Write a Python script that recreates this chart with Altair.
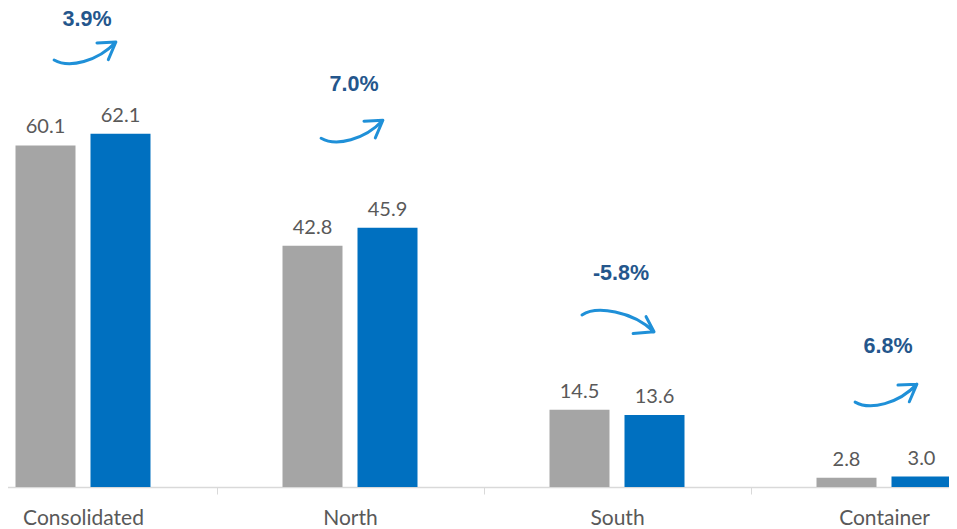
import altair as alt
import pandas as pd

# ---- data ----
categories = ["Consolidated", "North", "South", "Container"]
series_names = ["Previous", "Current"]
previous_values = [60.1, 42.8, 14.5, 2.8]
current_values = [62.1, 45.9, 13.6, 3.0]
growth_values = [3.9, 7.0, -5.8, 6.8]
growth_labels = ["3.9%", "7.0%", "-5.8%", "6.8%"]
arrow_levels = [76.2, 62.7, 29.7, 17.2]   # value-axis level of each growth arrow
label_levels = [80.7, 69.5, 36.9, 24.3]   # value-axis level of each growth label
series_colors = ["#a5a5a5", "#0070c0"]

bars_df = pd.DataFrame({
    "category": categories * 2,
    "series": [series_names[0]] * len(categories) + [series_names[1]] * len(categories),
    "value": previous_values + current_values,
})
ann_df = pd.DataFrame({
    "category": categories,
    "growth": growth_values,
    "label": growth_labels,
    "arrow_level": arrow_levels,
    "label_level": label_levels,
})

FONT = "Lato, sans-serif"
TEXT_GREY = "#595959"
ARROW_COLOR = "#1f90d8"
PCT_COLOR = "#24568c"

UP_ARROW = "M -0.98 0.25 C -0.5 0.52 0.4 0.3 0.98 -0.32 M 0.38 -0.29 L 0.98 -0.32 L 0.74 0.24"
DOWN_ARROW = "M -1 -0.19 C -0.6 -0.45 0.4 -0.3 1 0.28 M 0.78 -0.14 L 1 0.28 L 0.42 0.33"

yscale = alt.Scale(domain=[1.2, 83.8], nice=False, zero=False)
xscale = alt.Scale(range=[-58.5, 1009.5], paddingInner=0, paddingOuter=0)

x_enc = alt.X("category:N", sort=categories, scale=xscale,
              axis=alt.Axis(title=None, labelAngle=0, tickBand="extent"))
xoff_enc = alt.XOffset("series:N", sort=series_names,
                       scale=alt.Scale(paddingInner=0.2, paddingOuter=0.88))

base = alt.Chart(bars_df)

bars = base.mark_bar(clip=True).encode(
    x=x_enc,
    xOffset=xoff_enc,
    y=alt.Y("value:Q", scale=yscale, axis=None),
    color=alt.Color("series:N", scale=alt.Scale(domain=series_names, range=series_colors), legend=None),
)

values = base.mark_text(dy=-12, baseline="alphabetic", font=FONT, fontSize=20, color=TEXT_GREY).encode(
    x=x_enc,
    xOffset=xoff_enc,
    y=alt.Y("value:Q", scale=yscale, axis=None),
    text=alt.Text("value:Q", format=".1f"),
)

ann = alt.Chart(ann_df)

pct = ann.mark_text(font="Liberation Sans, Arial, sans-serif", fontWeight="bold", fontSize=21.5,
                    color=PCT_COLOR, dx=4, baseline="alphabetic").encode(
    x=x_enc,
    y=alt.Y("label_level:Q", scale=yscale, axis=None),
    text="label:N",
)

up_arrows = ann.transform_filter("datum.growth >= 0").mark_point(
    shape=UP_ARROW, size=3969, filled=False, color=ARROW_COLOR, strokeWidth=3,
    strokeCap="round", strokeJoin="round", opacity=1, xOffset=2,
).encode(
    x=x_enc,
    y=alt.Y("arrow_level:Q", scale=yscale, axis=None),
)

down_arrows = ann.transform_filter("datum.growth < 0").mark_point(
    shape=DOWN_ARROW, size=5184, filled=False, color=ARROW_COLOR, strokeWidth=3,
    strokeCap="round", strokeJoin="round", opacity=1, xOffset=1,
).encode(
    x=x_enc,
    y=alt.Y("arrow_level:Q", scale=yscale, axis=None),
)

chart = alt.layer(bars, values, pct, up_arrows, down_arrows).properties(
    width=941,
    height=479,
    autosize=alt.AutoSizeParams(type="none"),
    padding={"left": 0, "top": 0, "right": 0, "bottom": 42},
).configure_view(stroke=None).configure_axis(
    domainColor="#d9d9d9",
    domainWidth=1.3,
    tickColor="#d9d9d9",
    tickSize=7,
    labelFont=FONT,
    labelFontSize=21,
    labelColor=TEXT_GREY,
    labelPadding=13,
)

chart.save("out.html", embed_options={"renderer": "svg", "actions": False})
